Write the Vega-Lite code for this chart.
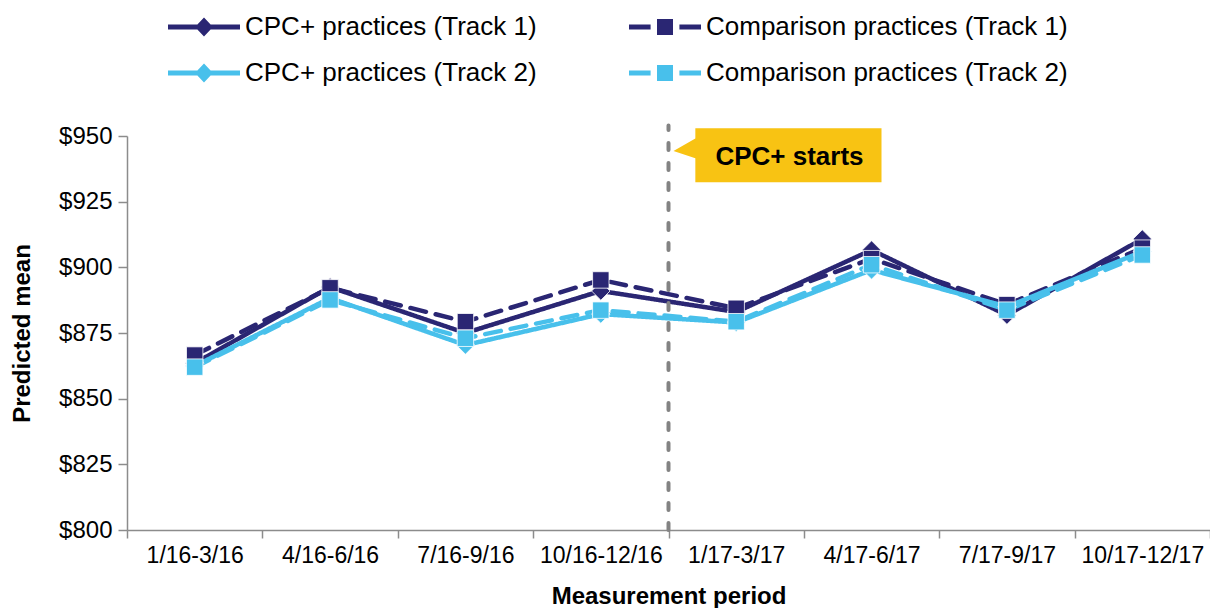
{
  "$schema": "https://vega.github.io/schema/vega-lite/v6.json",
  "width": 1083,
  "height": 394,
  "autosize": {"type": "none"},
  "padding": {"left": 127, "top": 136, "right": 0, "bottom": 78},
  "background": "white",
  "config": {
    "font": "Liberation Sans",
    "view": {"stroke": null},
    "axis": {"grid": false, "domainColor": "#8C8C8C", "tickColor": "#8C8C8C", "domainWidth": 1.5, "tickWidth": 1.5, "labelColor": "#000000", "titleColor": "#000000", "titleFontWeight": "bold", "titleFontSize": 24, "labelFontSize": 23}
  },
  "datasets": {
    "main": [
      {"period": "1/16-3/16", "series": "CPC+ practices (Track 1)", "value": 863.5},
      {"period": "4/16-6/16", "series": "CPC+ practices (Track 1)", "value": 892.5},
      {"period": "7/16-9/16", "series": "CPC+ practices (Track 1)", "value": 875.0},
      {"period": "10/16-12/16", "series": "CPC+ practices (Track 1)", "value": 891.0},
      {"period": "1/17-3/17", "series": "CPC+ practices (Track 1)", "value": 883.0},
      {"period": "4/17-6/17", "series": "CPC+ practices (Track 1)", "value": 906.6},
      {"period": "7/17-9/17", "series": "CPC+ practices (Track 1)", "value": 881.8},
      {"period": "10/17-12/17", "series": "CPC+ practices (Track 1)", "value": 910.8},
      {"period": "1/16-3/16", "series": "Comparison practices (Track 1)", "value": 866.6},
      {"period": "4/16-6/16", "series": "Comparison practices (Track 1)", "value": 892.2},
      {"period": "7/16-9/16", "series": "Comparison practices (Track 1)", "value": 879.3},
      {"period": "10/16-12/16", "series": "Comparison practices (Track 1)", "value": 895.2},
      {"period": "1/17-3/17", "series": "Comparison practices (Track 1)", "value": 884.4},
      {"period": "4/17-6/17", "series": "Comparison practices (Track 1)", "value": 903.3},
      {"period": "7/17-9/17", "series": "Comparison practices (Track 1)", "value": 885.8},
      {"period": "10/17-12/17", "series": "Comparison practices (Track 1)", "value": 907.3},
      {"period": "1/16-3/16", "series": "CPC+ practices (Track 2)", "value": 862.4},
      {"period": "4/16-6/16", "series": "CPC+ practices (Track 2)", "value": 888.3},
      {"period": "7/16-9/16", "series": "CPC+ practices (Track 2)", "value": 870.4},
      {"period": "10/16-12/16", "series": "CPC+ practices (Track 2)", "value": 882.2},
      {"period": "1/17-3/17", "series": "CPC+ practices (Track 2)", "value": 879.0},
      {"period": "4/17-6/17", "series": "CPC+ practices (Track 2)", "value": 899.0},
      {"period": "7/17-9/17", "series": "CPC+ practices (Track 2)", "value": 885.0},
      {"period": "10/17-12/17", "series": "CPC+ practices (Track 2)", "value": 906.0},
      {"period": "1/16-3/16", "series": "Comparison practices (Track 2)", "value": 862.0},
      {"period": "4/16-6/16", "series": "Comparison practices (Track 2)", "value": 887.6},
      {"period": "7/16-9/16", "series": "Comparison practices (Track 2)", "value": 873.0},
      {"period": "10/16-12/16", "series": "Comparison practices (Track 2)", "value": 883.7},
      {"period": "1/17-3/17", "series": "Comparison practices (Track 2)", "value": 879.3},
      {"period": "4/17-6/17", "series": "Comparison practices (Track 2)", "value": 901.0},
      {"period": "7/17-9/17", "series": "Comparison practices (Track 2)", "value": 883.7},
      {"period": "10/17-12/17", "series": "Comparison practices (Track 2)", "value": 904.7}
    ],
    "note": [
      {"period": "1/17-3/17", "label": "CPC+ starts"}
    ]
  },
  "encoding": {
    "x": {"field": "period", "type": "ordinal",
      "scale": {"type": "band", "paddingInner": 0, "paddingOuter": 0,
        "domain": ["1/16-3/16", "4/16-6/16", "7/16-9/16", "10/16-12/16", "1/17-3/17", "4/17-6/17", "7/17-9/17", "10/17-12/17"]},
      "axis": {"title": "Measurement period", "labelAngle": 0, "tickBand": "extent", "tickSize": 8, "labelPadding": 6, "titlePadding": 17}}
  },
  "layer": [
    {
      "data": {"name": "main"},
      "encoding": {
        "y": {"field": "value", "type": "quantitative", "scale": {"domain": [800, 950], "zero": false, "nice": false},
          "axis": {"title": "Predicted mean", "values": [800, 825, 850, 875, 900, 925, 950], "format": "$,.0f", "tickSize": 9, "labelPadding": 6, "labelFontSize": 24, "titlePadding": 24}},
        "color": {"field": "series", "type": "nominal",
          "scale": {"domain": ["CPC+ practices (Track 1)", "Comparison practices (Track 1)", "CPC+ practices (Track 2)", "Comparison practices (Track 2)"], "range": ["#2A2673", "#2A2673", "#48C0EB", "#48C0EB"]},
          "legend": {
            "orient": "none", "direction": "horizontal", "legendX": 61, "legendY": -125, "columns": 2, "columnPadding": 92, "rowPadding": 17,
            "padding": 0, "title": null, "symbolSize": 1024, "symbolStrokeWidth": 0, "symbolOpacity": 1, "labelFontSize": 26, "labelColor": "#000000", "labelOffset": 25, "labelLimit": 0
          }}
      },
      "layer": [
        {
          "mark": {"type": "line", "strokeWidth": 4.5, "strokeCap": "round", "strokeJoin": "round"},
          "encoding": {
            "strokeDash": {"field": "series", "type": "nominal", "legend": null,
              "scale": {"domain": ["CPC+ practices (Track 1)", "Comparison practices (Track 1)", "CPC+ practices (Track 2)", "Comparison practices (Track 2)"], "range": [[1, 0], [16, 10], [1, 0], [16, 10]]}}
          }
        },
        {
          "transform": [{"filter": "indexof(datum.series, 'CPC') == 0"}],
          "mark": {"type": "point", "filled": true, "opacity": 1, "shape": "diamond", "size": 340, "stroke": "white", "strokeWidth": 0.8}
        },
        {
          "transform": [{"filter": "indexof(datum.series, 'Comparison') == 0"}],
          "mark": {"type": "point", "filled": true, "opacity": 1, "shape": "square", "size": 270, "stroke": "white", "strokeWidth": 0.8}
        },
        {
          "transform": [{"filter": "false"}],
          "mark": {"type": "point", "filled": true, "opacity": 1},
          "encoding": {
            "shape": {"field": "series", "type": "nominal",
              "scale": {"domain": ["CPC+ practices (Track 1)", "Comparison practices (Track 1)", "CPC+ practices (Track 2)", "Comparison practices (Track 2)"],
                "range": ["M-2.25,-0.15L2.25,-0.15L2.25,0.15L-2.25,0.15Z M0,-0.6L0.56,0L0,0.6L-0.56,0Z", "M-2.25,-0.15L-0.9,-0.15L-0.9,0.15L-2.25,0.15Z M-0.5,-0.5L0.5,-0.5L0.5,0.5L-0.5,0.5Z M0.9,-0.15L2.25,-0.15L2.25,0.15L0.9,0.15Z", "M-2.25,-0.15L2.25,-0.15L2.25,0.15L-2.25,0.15Z M0,-0.6L0.56,0L0,0.6L-0.56,0Z", "M-2.25,-0.15L-0.9,-0.15L-0.9,0.15L-2.25,0.15Z M-0.5,-0.5L0.5,-0.5L0.5,0.5L-0.5,0.5Z M0.9,-0.15L2.25,-0.15L2.25,0.15L0.9,0.15Z"]}}
          }
        }
      ]
    },
    {
      "data": {"name": "note"},
      "mark": {"type": "rule", "color": "#838383", "strokeWidth": 4, "strokeDash": [7, 13], "strokeCap": "round"},
      "encoding": {
        "x": {"field": "period", "type": "ordinal", "bandPosition": 0},
        "y": {"datum": 800},
        "y2": {"datum": 954}
      }
    },
    {
      "data": {"name": "note"},
      "mark": {"type": "point", "filled": true, "color": "#F8C313", "opacity": 1, "size": 43264, "xOffset": 109,
        "shape": "M-1,-0.04L-0.79,-0.16L-0.79,-0.26L1,-0.26L1,0.26L-0.79,0.26L-0.79,0.03Z"},
      "encoding": {
        "x": {"field": "period", "type": "ordinal", "bandPosition": 0},
        "y": {"datum": 942.7}
      }
    },
    {
      "data": {"name": "note"},
      "mark": {"type": "text", "fontSize": 26, "fontWeight": "bold", "color": "#000000", "align": "center", "baseline": "middle", "xOffset": 121},
      "encoding": {
        "x": {"field": "period", "type": "ordinal", "bandPosition": 0},
        "y": {"datum": 942},
        "text": {"field": "label"}
      }
    }
  ]
}
